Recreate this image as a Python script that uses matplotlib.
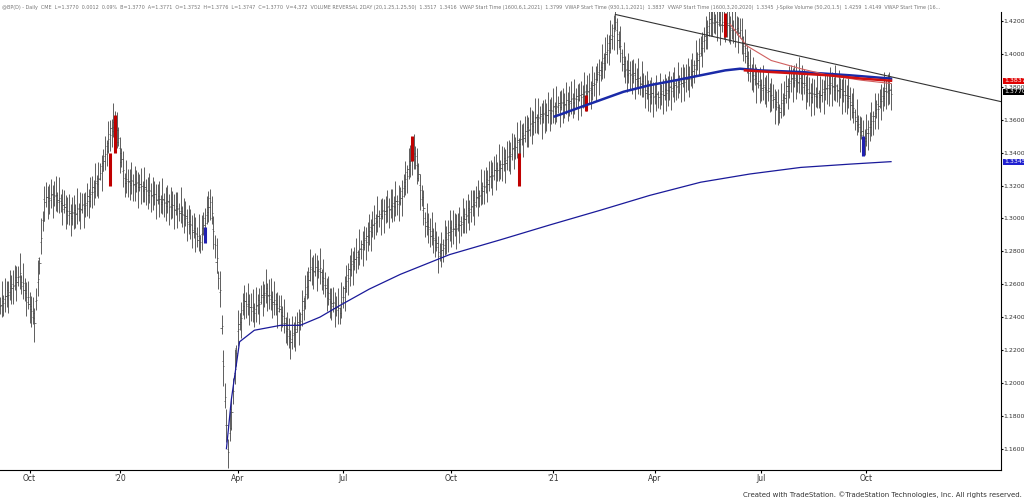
import matplotlib
matplotlib.use("Agg")
import matplotlib.pyplot as plt
import numpy as np

# price path keypoints (trading-day index, close)
day = [0,12,21,27,34,43,52,61,67,70,76,85,98,110,122,128,131,134,137,139,141,145,149,155,162,171,177,183,189,195,201,207,213,223,229,235,244,250,253,259,265,268,274,280,290,299,308,317,326,332,341,350,360,366,372,375,381,390,396,402,412,421,427,433,442,451,457,463,468,475,482,488,494,500,506,512,518,524,527,534,540,543]
close = [1.247,1.266,1.238,1.311,1.314,1.302,1.308,1.326,1.351,1.360,1.323,1.320,1.311,1.305,1.287,1.311,1.284,1.256,1.190,1.159,1.183,1.232,1.250,1.244,1.256,1.244,1.226,1.238,1.269,1.269,1.250,1.244,1.269,1.287,1.299,1.305,1.311,1.335,1.339,1.299,1.287,1.278,1.293,1.296,1.311,1.326,1.335,1.348,1.360,1.363,1.369,1.372,1.378,1.390,1.408,1.418,1.390,1.384,1.375,1.375,1.381,1.387,1.402,1.421,1.418,1.414,1.390,1.381,1.378,1.366,1.384,1.384,1.375,1.375,1.381,1.378,1.372,1.354,1.348,1.366,1.378,1.377]

# anchored VWAP lines (day, value)
vw_long_d = [138,141,146,155,171,183,195,207,225,244,274,305,335,366,396,427,457,488,518,543]
vw_long_v = [1.160,1.190,1.225,1.232,1.235,1.235,1.240,1.247,1.257,1.266,1.278,1.287,1.296,1.305,1.314,1.322,1.327,1.331,1.333,1.3345]
vw_21_d = [338,341,352,366,380,396,412,427,442,451,463,488,518,543]
vw_21_v = [1.362,1.363,1.367,1.372,1.377,1.381,1.384,1.387,1.390,1.391,1.390,1.389,1.387,1.385]
vw_red_d = [454,470,488,505,525,543]
vw_red_v = [1.390,1.389,1.388,1.387,1.385,1.3837]
vw_thin_d = [445,455,470,488,505,525,543]
vw_thin_v = [1.418,1.405,1.396,1.391,1.387,1.384,1.382]

# signal bars: (day, low, high, colour)
sig_d = [67,70,125,251,316,357,442,526]
sig_lo = [1.320,1.340,1.285,1.335,1.320,1.365,1.410,1.338]
sig_hi = [1.340,1.363,1.295,1.350,1.340,1.375,1.425,1.350]
sig_c = ['#c00000','#c00000','#2020b0','#c00000','#c00000','#c00000','#c00000','#2020b0']

tick_days = [18,73,145,209,275,337,399,464,528]
tick_labels = ['Oct',"'20",'Apr','Jul','Oct',"'21",'Apr','Jul','Oct']
yticks = [1.16,1.18,1.20,1.22,1.24,1.26,1.28,1.30,1.32,1.34,1.36,1.38,1.40,1.42]

fig = plt.figure(figsize=(10.24,4.99), dpi=100)
ax = fig.add_axes([0.0,0.058,0.9775,0.918])
days = np.arange(0,544)
c = np.interp(days, day, close)
rng = np.abs(np.sin(days*1.7))*0.006+0.005
off = np.sin(days*2.3)*0.003
ax.vlines(days, c-rng+off, c+rng+off, color='#444444', lw=0.6)
ax.hlines(c+off*0.5, days, days+0.7, color='#444444', lw=0.5)
ax.hlines(c-off*0.5, days-0.7, days, color='#444444', lw=0.5)
for d,l,h,col in zip(sig_d,sig_lo,sig_hi,sig_c):
    ax.vlines(d,l,h,color=col,lw=2.2)
ax.plot(vw_long_d, vw_long_v, color='#1a1a9a', lw=0.9)
ax.plot(vw_21_d, vw_21_v, color='#1a2aa8', lw=1.8)
ax.plot(vw_thin_d, vw_thin_v, color='#d06060', lw=0.8)
ax.plot(vw_red_d, vw_red_v, color='#d01010', lw=1.8)
ax.plot([375,610],[1.424,1.371], color='#333333', lw=0.8)

ax.set_xlim(0,610)
ax.set_ylim(1.147,1.4255)
ax.yaxis.tick_right()
ax.set_yticks(yticks)
ax.set_yticklabels([f'{v:.4f}' for v in yticks], fontsize=4.5, color='#333333')
ax.set_xticks(tick_days)
ax.set_xticklabels(tick_labels, fontsize=5.5, color='#333333')
ax.tick_params(axis='y', length=1.5, pad=0.5)
ax.tick_params(axis='x', length=2, pad=1)
for s in ['top','left']:
    ax.spines[s].set_visible(False)
for lab,v,col in [('1.3837',1.3837,'#e00000'),('1.3770',1.3770,'#000000'),('1.3345',1.3345,'#2020d0')]:
    ax.text(1.003, v, lab, transform=ax.get_yaxis_transform(), fontsize=4.5, color='white',
            va='center', ha='left', bbox=dict(boxstyle='square,pad=0.1', fc=col, ec='none'))
fig.text(0.002,0.99,"@BP(D) - Daily  CME  L=1.3770  0.0012  0.09%  B=1.3770  A=1.3771  O=1.3752  H=1.3776  L=1.3747  C=1.3770  V=4,372  VOLUME REVERSAL 2DAY (20,1.25,1.25,50)  1.3517  1.3416  VWAP Start Time (1600,6,1,2021)  1.3799  VWAP Start Time (930,1,1,2021)  1.3837  VWAP Start Time (1600,3,20,2020)  1.3345  J-Spike Volume (50,20,1.5)  1.4259  1.4149  VWAP Start Time (16...",
         fontsize=3.5, color='#777777', va='top')
fig.text(0.998,0.003,"Created with TradeStation. ©TradeStation Technologies, Inc. All rights reserved.",
         fontsize=5, ha='right', va='bottom', color='#333333')
fig.savefig('out.png', dpi=100)
